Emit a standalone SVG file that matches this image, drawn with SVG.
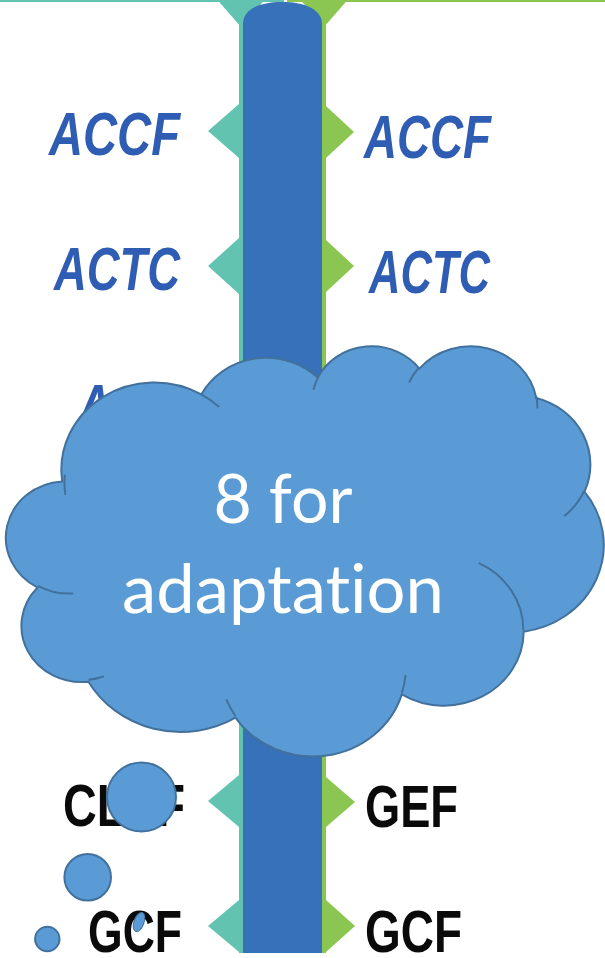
<svg xmlns="http://www.w3.org/2000/svg" width="605" height="958" viewBox="0 0 605 958">
<style>
.teal{fill:#62c4b0}
.green{fill:#8bc653}
.bar{fill:#3771b9}
.lb{font-family:"Liberation Sans",Arial,sans-serif;font-weight:bold;font-style:italic;font-size:61px;fill:#2f5db3}
.lk{font-family:"Liberation Sans",Arial,sans-serif;font-weight:bold;font-size:60px;fill:#0a0a0a}
.cl{fill:#5b9bd5;stroke:#41719c;stroke-width:2}
.ci{fill:none;stroke:#41719c;stroke-width:2}
.ct{font-family:Lato,"Open Sans",sans-serif;font-size:68px;fill:#ffffff;text-anchor:middle;font-variant-ligatures:none;font-feature-settings:"liga" 0,"dlig" 0}
</style>
<rect width="605" height="958" fill="#ffffff"/>
<g id="connectors">
  <rect class="teal" x="0" y="0" width="284" height="2"/>
  <rect class="green" x="287" y="0" width="318" height="2"/>
  <rect class="teal" x="239" y="0" width="4" height="953"/>
  <rect class="green" x="322" y="0" width="4" height="953"/>
  <polygon class="teal" points="214,-4 268,-4 241,27"/>
  <polygon class="green" points="297,-4 351,-4 324,27"/>
  <polygon class="teal" points="239,104 208,131 239,158"/>
  <polygon class="green" points="326,106 354,132 326,158"/>
  <polygon class="teal" points="239,238 208,266 239,294"/>
  <polygon class="green" points="326,240 354,266 326,292"/>
  <polygon class="teal" points="239,775 208,801 239,827"/>
  <polygon class="green" points="326,777 355,802 326,827"/>
  <polygon class="teal" points="239,900 208,926 239,952"/>
  <polygon class="green" points="326,900 355,926 326,952"/>
  <path class="bar" d="M243,953 V24 C243,10 258,2 282,2 C306,2 322,10 322,24 V953 Z"/>
</g>
<g id="row1">
  <text class="lb" x="49" y="155" textLength="131" lengthAdjust="spacingAndGlyphs">ACCF</text>
  <text class="lb" x="364" y="158" textLength="127" lengthAdjust="spacingAndGlyphs">ACCF</text>
</g>
<g id="row2">
  <text class="lb" x="54" y="290" textLength="126" lengthAdjust="spacingAndGlyphs">ACTC</text>
  <text class="lb" x="369" y="293" textLength="121" lengthAdjust="spacingAndGlyphs">ACTC</text>
</g>
<g id="row3">
  <text class="lb" x="78" y="427" textLength="33" lengthAdjust="spacingAndGlyphs">A</text>
</g>
<g id="row6">
  <text class="lk" x="63" y="826" textLength="122" lengthAdjust="spacingAndGlyphs">CLEF</text>
  <text class="lk" x="365" y="827" textLength="93" lengthAdjust="spacingAndGlyphs">GEF</text>
</g>
<g id="row7">
  <text class="lk" x="88" y="952" textLength="94" lengthAdjust="spacingAndGlyphs">GCF</text>
  <text class="lk" x="365" y="952" textLength="97" lengthAdjust="spacingAndGlyphs">GCF</text>
</g>
<g id="cloud">
  <g transform="translate(8.5,345) scale(0.0137731,0.0094907)">
    <path class="cl" vector-effect="non-scaling-stroke" d="M3900 14370 A6753 9190 0 0 1 14004.5 5201.6 A5333 7267 0 0 1 22454.5 3433.1 A4365 5945 0 0 1 29832.1 2482.2 A4857 6595 0 0 1 38318.3 5576 A5333 7273 0 0 1 41818.8 15459.7 A6775 9220 0 0 1 37404.4 30202 A5785 7867 0 0 1 28555.7 36812 A6752 9215 0 0 1 16481.3 39265.3 A7720 10543 0 0 1 5806 35475.1 A4360 5918 0 0 1 2113.1 25555.8 A4345 5945 0 0 1 3900 14370 Z"/>
    <path class="ci" vector-effect="non-scaling-stroke" d="M4693 26177 A4345 5945 0 0 1 2159.6 25379.9 M6928 34899 A4360 5918 0 0 1 5819.6 35280.4 M16478 39090 A6752 9215 0 0 1 15809.1 37348 M28827 34751 A6752 9215 0 0 1 28560.4 36660.2 M34129 22954 A5785 7867 0 0 1 37380.4 30089.6 M41798 15354 A5333 7273 0 0 1 40350.9 18029.1 M38324 5426 A4857 6595 0 0 1 38400.4 6689.5 M29078 3952 A4857 6595 0 0 1 29818.8 2341.2 M22141 4720 A4365 5945 0 0 1 22500.1 3330.3 M14000 5192 A6753 9190 0 0 1 15300.4 6540.9 M4127 15789 A6753 9190 0 0 1 4097.2 13657.5"/>
  </g>
  <text class="ct" x="283" y="523" textLength="139" lengthAdjust="spacingAndGlyphs">8 for</text>
  <text class="ct" x="283" y="613" textLength="322" lengthAdjust="spacingAndGlyphs">adaptation</text>
</g>
<g id="bubbles">
  <circle class="cl" cx="141.5" cy="797" r="34.5"/>
  <circle class="cl" cx="87.7" cy="877.3" r="23.3"/>
  <circle class="cl" cx="47.3" cy="939" r="12.2"/>
  <ellipse class="cl" cx="139" cy="922" rx="5" ry="10" transform="rotate(20 139 922)" style="stroke-width:1"/>
</g>
</svg>
